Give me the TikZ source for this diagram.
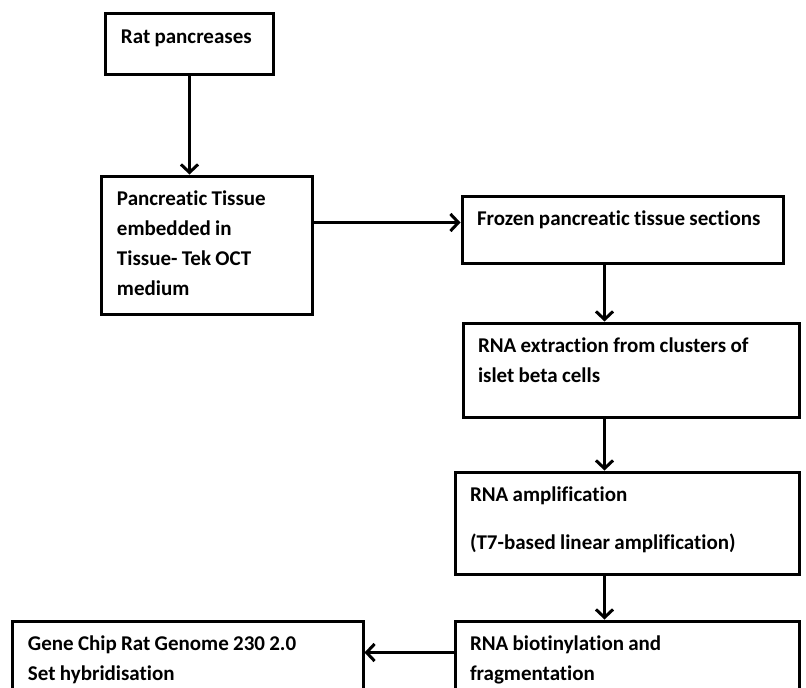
\documentclass[tikz,border=0pt]{standalone}
\usepackage{fontspec}
\setmainfont{Carlito}[Ligatures=NoCommon, WordSpace=0.9]
\usetikzlibrary{arrows.meta}

\tikzstyle{block} = [draw, rectangle, line width=3pt, inner xsep=15pt, inner ysep=0pt, align=left, text height=29pt, font=\fontsize{21}{30}\selectfont\bfseries, execute at begin node={\spaceskip=0pt\hyphenpenalty=10000\relax}]
\tikzstyle{arrowline} = [draw, ->, line width=3pt]

\begin{document}
\begin{tikzpicture}[>={Straight Barb[length=8pt,width=17pt]}]
  % page frame, rat box sits at the origin
  \path [use as bounding box, fill=white] (-189.5pt,44pt) rectangle ++(806pt,-688pt);

  \node [block, text width=137pt, text depth=31pt] (rat) {Rat pancreases};
  \node [block, text width=180pt, text depth=109pt, below of=rat, node distance=201pt, xshift=17.5pt] (tissue)
    {Pancreatic Tissue\\embedded in\\Tissue- Tek OCT\\medium};

  \node [block, text width=291pt, text depth=38pt, right of=tissue, node distance=415.5pt, yshift=15.5pt] (frozen)
    {Frozen pancreatic tissue sections};
  \node [block, text width=306pt, text depth=65pt, below of=frozen, node distance=140.5pt, xshift=8.5pt] (extract)
    {RNA extraction from clusters of\\islet beta cells};
  \node [block, text width=314pt, text depth=73pt, below of=extract, node distance=153pt, xshift=-4pt] (amplif)
    {RNA amplification\\[18pt](T7-based linear amplification)};
  \node [block, text width=314pt, text depth=81pt, below of=amplif, node distance=153pt] (biotin)
    {RNA biotinylation and\\fragmentation};
  \node [block, text width=320pt, text depth=81pt, left of=biotin, node distance=439pt] (gene)
    {Gene Chip Rat Genome 230 2.0\\Set hybridisation};

  \node [coordinate] (frozen_w) at ([yshift=-28pt]frozen.north west) {};
  \node [coordinate] (spine) at ([xshift=151pt]amplif.west) {};
  \node [coordinate] (biotin_w) at ([yshift=-33pt]biotin.north west) {};

  \draw [arrowline] (rat) -- (rat |- tissue.north);
  \draw [arrowline] (tissue.east |- frozen_w) -- (frozen_w);
  \draw [arrowline] (spine |- frozen.south) -- (spine |- extract.north);
  \draw [arrowline] (spine |- extract.south) -- (spine |- amplif.north);
  \draw [arrowline] (spine |- amplif.south) -- (spine |- biotin.north);
  \draw [arrowline] (biotin_w) -- (gene.east |- biotin_w);
\end{tikzpicture}
\end{document}
